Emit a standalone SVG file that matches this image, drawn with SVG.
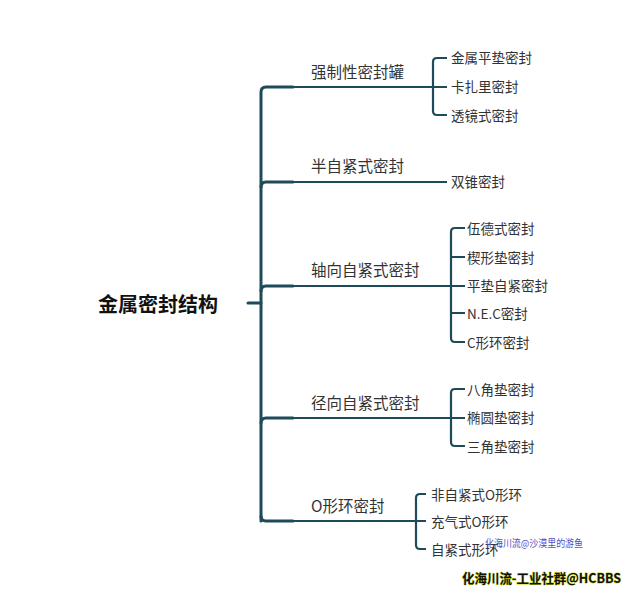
<svg xmlns="http://www.w3.org/2000/svg" width="632" height="595" viewBox="0 0 632 595">
<style>
  .main{fill:none;stroke:#1e4b5a;stroke-width:3;stroke-linecap:round}
  .br{fill:none;stroke:#1e4b5a;stroke-width:2.2}
  .sub{fill:none;stroke:#1e4b5a;stroke-width:2.2}
  text{font-family:"Noto Sans CJK SC","Liberation Sans",sans-serif;dominant-baseline:central;fill:#333}
  .root{font-size:20px;font-weight:bold;fill:#111}
  .l1{font-size:15.5px;fill:#333}
  .l2{font-size:13.5px;fill:#333}
  .wm1{font-size:10px;fill:#5050c8}
  .wm2{font-size:13px;font-weight:bold;fill:#111;stroke:#c8d800;stroke-width:0.8;paint-order:stroke}
</style>
<rect width="632" height="595" fill="#ffffff"/>
<g id="connectors">
  <path class="main" d="M248,303 H261"/>
  <path class="main" d="M261,521 V92 Q261,87 266,87 H293"/>
  <path class="main" d="M261,187 Q261,182 266,182 H293"/>
  <path class="main" d="M261,291 Q261,286 266,286 H293"/>
  <path class="main" d="M261,423 Q261,418 266,418 H293"/>
  <path class="main" d="M261,516 Q261,521 266,521 H293"/>
  <path class="br" d="M293,87 H447"/>
  <path class="br" d="M293,182 H447"/>
  <path class="br" d="M293,286 H465"/>
  <path class="br" d="M293,418 H465"/>
  <path class="br" d="M293,521 H426"/>
  <path class="sub" d="M447,58 H437 Q433,58 433,62 V111 Q433,115 437,115 H447"/>
  <path class="sub" d="M465,228 H455 Q451,228 451,232 V338 Q451,342 455,342 H465 M451,257 H465 M451,313 H465"/>
  <path class="sub" d="M465,389 H455 Q451,389 451,393 V442 Q451,446 455,446 H465"/>
  <path class="sub" d="M426,494 H420 Q416,494 416,498 V545 Q416,549 420,549 H426"/>
</g>
<g id="root"><text class="root" x="98" y="303">金属密封结构</text></g>
<g id="n1"><text class="l1" x="311" y="71">强制性密封罐</text></g>
<g id="n1a"><text class="l2" x="451" y="57">金属平垫密封</text></g>
<g id="n1b"><text class="l2" x="451" y="86">卡扎里密封</text></g>
<g id="n1c"><text class="l2" x="451" y="115">透镜式密封</text></g>
<g id="n2"><text class="l1" x="311" y="165">半自紧式密封</text></g>
<g id="n2a"><text class="l2" x="451" y="181">双锥密封</text></g>
<g id="n3"><text class="l1" x="311" y="269">轴向自紧式密封</text></g>
<g id="n3a"><text class="l2" x="467" y="228">伍德式密封</text></g>
<g id="n3b"><text class="l2" x="467" y="257">楔形垫密封</text></g>
<g id="n3c"><text class="l2" x="467" y="285">平垫自紧密封</text></g>
<g id="n3d"><text class="l2" x="467" y="313">N.E.C密封</text></g>
<g id="n3e"><text class="l2" x="467" y="342">C形环密封</text></g>
<g id="n4"><text class="l1" x="311" y="402">径向自紧式密封</text></g>
<g id="n4a"><text class="l2" x="467" y="389">八角垫密封</text></g>
<g id="n4b"><text class="l2" x="467" y="417">椭圆垫密封</text></g>
<g id="n4c"><text class="l2" x="467" y="446">三角垫密封</text></g>
<g id="n5"><text class="l1" x="311" y="505">O形环密封</text></g>
<g id="n5a"><text class="l2" x="431" y="494">非自紧式O形环</text></g>
<g id="n5b"><text class="l2" x="431" y="521">充气式O形环</text></g>
<g id="n5c"><text class="l2" x="431" y="549">自紧式形环</text></g>
<g id="watermarks">
  <text class="wm1" x="485" y="542" textLength="98" lengthAdjust="spacingAndGlyphs">化海川流@沙漠里的游鱼</text>
  <text class="wm2" x="462" y="577" textLength="159" lengthAdjust="spacingAndGlyphs">化海川流-工业社群@HCBBS</text>
</g>
</svg>
